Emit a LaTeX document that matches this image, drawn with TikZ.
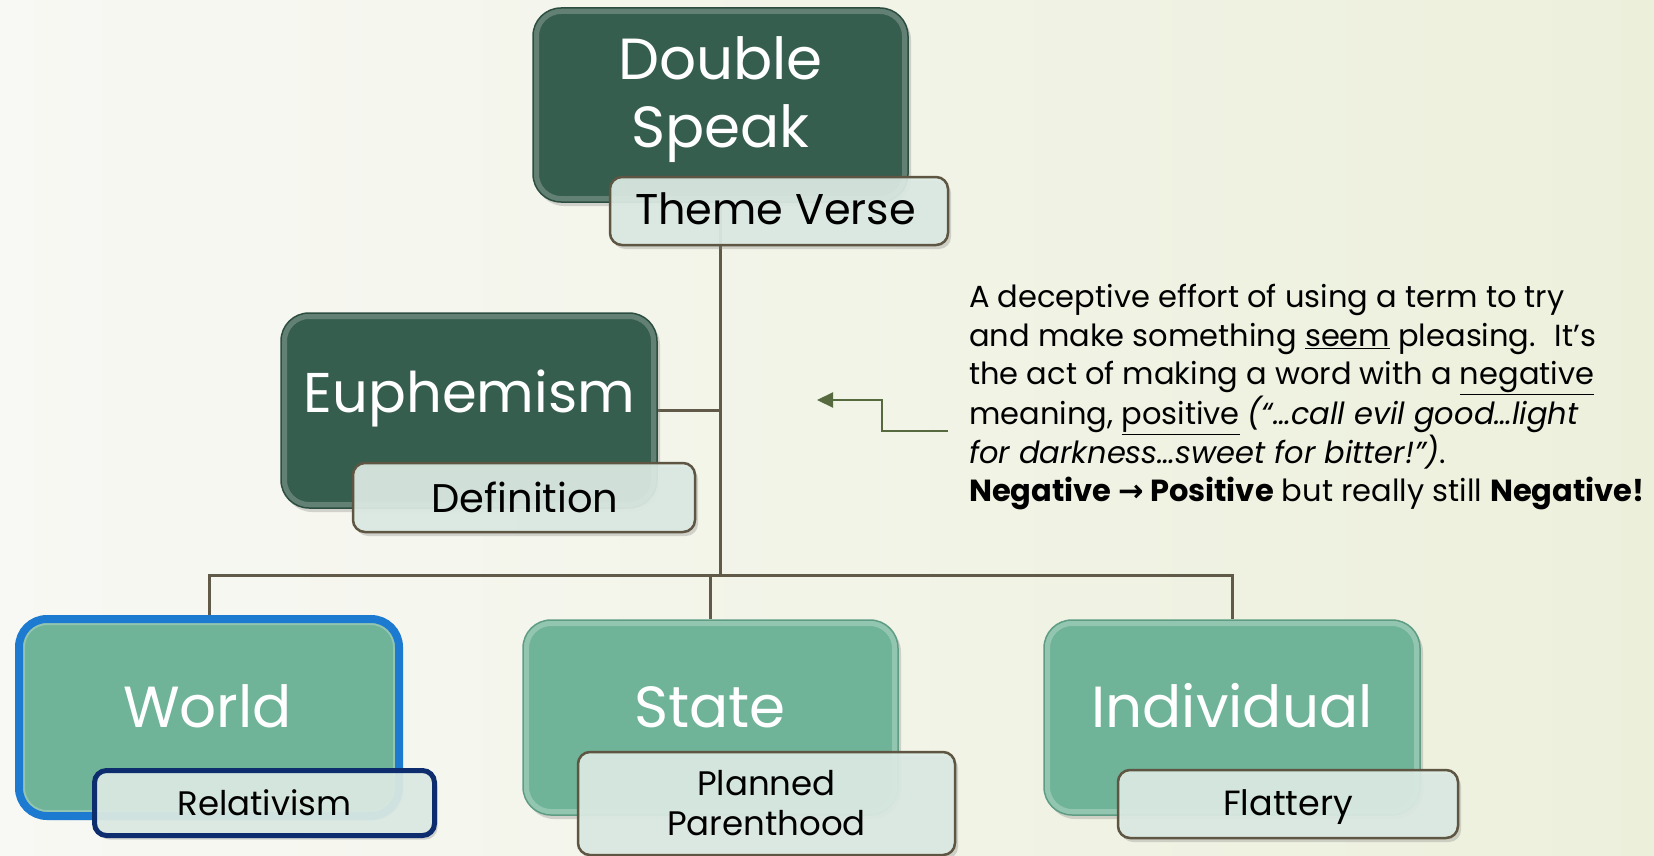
\documentclass[tikz,border=0pt]{standalone}
\usepackage{fontspec}
\setmainfont{Poppins}
\newfontfamily\arrowfont{DejaVu Sans}
\usetikzlibrary{arrows.meta,shadows}

\definecolor{bgleft}{HTML}{F8F8F4}
\definecolor{bgmid}{HTML}{F9F9F5}
\definecolor{bgright}{HTML}{ECF0DB}
\definecolor{darkbox}{HTML}{365E4E}
\definecolor{darkedge}{HTML}{2C4E41}
\definecolor{lightbox}{HTML}{6FB398}
\definecolor{lightedge}{HTML}{5E9C84}
\definecolor{tagfill}{HTML}{DCEBE4}
\definecolor{tagline}{HTML}{5E5542}
\definecolor{linkcol}{HTML}{625A48}
\definecolor{arrowcol}{HTML}{56693F}
\definecolor{worldblue}{HTML}{1C7AD0}
\definecolor{relatblue}{HTML}{0E2D6E}

\pgfdeclarelayer{back}
\pgfdeclarelayer{links}
\pgfsetlayers{back,links,main}

\tikzset{
    darkbox/.style={fill=darkbox, draw=darkedge, line width=1.5, rounded corners=28,
        inner sep=0, drop shadow={shadow xshift=3pt, shadow yshift=-4pt, opacity=.3},
        path picture={\draw[line width=12, draw=white, draw opacity=.22, rounded corners=28]
            (path picture bounding box.south west) rectangle (path picture bounding box.north east);}},
    lightbox/.style={fill=lightbox, draw=lightedge, line width=1.5, rounded corners=28,
        inner sep=0, drop shadow={shadow xshift=3pt, shadow yshift=-4pt, opacity=.3},
        path picture={\draw[line width=12, draw=white, draw opacity=.25, rounded corners=28]
            (path picture bounding box.south west) rectangle (path picture bounding box.north east);}},
    tagbox/.style={fill=tagfill, fill opacity=.92, draw=tagline, line width=2.5, rounded corners=12,
        inner sep=0, drop shadow={shadow xshift=3pt, shadow yshift=-4pt, opacity=.3}},
    bigtext/.style={text=white, inner sep=0, align=center, anchor=base},
    tagtext/.style={text=black, inner sep=0, align=center, anchor=base},
    link/.style={draw=linkcol, line width=3},
    callout/.style={draw=arrowcol, line width=2.2, -{Triangle[length=16pt,width=15pt]}}
}

\begin{document}
\begin{tikzpicture}[x=1pt, y=1pt]
    \useasboundingbox (0,0) rectangle (1654,-856);
    \begin{pgfonlayer}{back}
        \shade[left color=bgleft, middle color=bgmid, right color=bgright] (0,0) rectangle (1654,-856);
    \end{pgfonlayer}

    % Top of the tree
    \node[darkbox, minimum width=375, minimum height=194] (speak) at (720.5,-105) {};
    \node[bigtext, font=\fontsize{58}{67}\selectfont] (speaktxt) at (720.5,-147) {Double\\Speak};
    \node[tagbox, minimum width=338, minimum height=68] (theme) at (779,-211) {};
    \node[tagtext, font=\fontsize{43}{50}\selectfont] (themetxt) at (775.5,-224) {Theme Verse};

    % Side branch
    \node[darkbox, minimum width=376, minimum height=195] (euph) at (469,-410.5) {};
    \node[bigtext, font=\fontsize{56}{64}\selectfont] (euphtxt) at (469.5,-412) {Euphemism};
    \node[tagbox, minimum width=342, minimum height=69] (defn) at (524,-497.5) {};
    \node[tagtext, font=\fontsize{40}{48}\selectfont] (defntxt) at (525,-512) {Definition};

    % Bottom row
    \node[lightbox, draw=worldblue, line width=8, minimum width=380, minimum height=197] (world) at (209,-717.5) {};
    \node[bigtext, font=\fontsize{58}{68}\selectfont] (worldtxt) at (207.5,-727) {World};
    \node[tagbox, draw=relatblue, line width=5, minimum width=340, minimum height=65] (relat) at (264.5,-803) {};
    \node[tagtext, font=\fontsize{34}{40}\selectfont] (relattxt) at (264.5,-815) {Relativism};

    \node[lightbox, minimum width=375, minimum height=195] (state) at (710.5,-717.5) {};
    \node[bigtext, font=\fontsize{58}{68}\selectfont] (statetxt) at (710,-727) {State};
    \node[tagbox, minimum width=377, minimum height=103] (plan) at (766.5,-803.5) {};
    \node[tagtext, font=\fontsize{34}{40}\selectfont] (plantxt) at (766.5,-835) {Planned\\Parenthood};

    \node[lightbox, minimum width=376, minimum height=195] (indiv) at (1232,-717.5) {};
    \node[bigtext, font=\fontsize{58}{68}\selectfont] (indivtxt) at (1232,-727) {Individual};
    \node[tagbox, minimum width=340, minimum height=68] (flat) at (1288,-804) {};
    \node[tagtext, font=\fontsize{35}{40}\selectfont] (flattxt) at (1288,-815) {Flattery};

    % Connectors
    \coordinate (bus) at (720.5,-575);
    \begin{pgfonlayer}{links}
        \draw[link] (speak.south) -- (bus);
        \draw[link] (euph.east) -- (euph.east -| bus);
        \draw[link] (world.north) |- (bus) -| (indiv.north);
        \draw[link] (bus -| state.north) -- (state.north);
    \end{pgfonlayer}

    % Definition text and its pointer
    \node[anchor=base west, align=left, inner sep=0, font=\fontsize{30.5}{38.5}\selectfont] (note) at (969,-501.5)
        {A deceptive effort of using a term to try\\
         and make something \underline{seem} pleasing. \ It’s\\
         the act of making a word with a \underline{negative}\\
         meaning, \underline{positive} \textit{(“…call evil good…light}\\
         \textit{for darkness…sweet for bitter!”)}.\\
         \textbf{Negative {\arrowfont→} Positive} but really still \textbf{Negative!}};
    \coordinate (callstart) at (948,-431);
    \coordinate (calltip) at (817,-400);
    \draw[callout] (callstart) -- ++(-66,0) |- (calltip);
\end{tikzpicture}
\end{document}
